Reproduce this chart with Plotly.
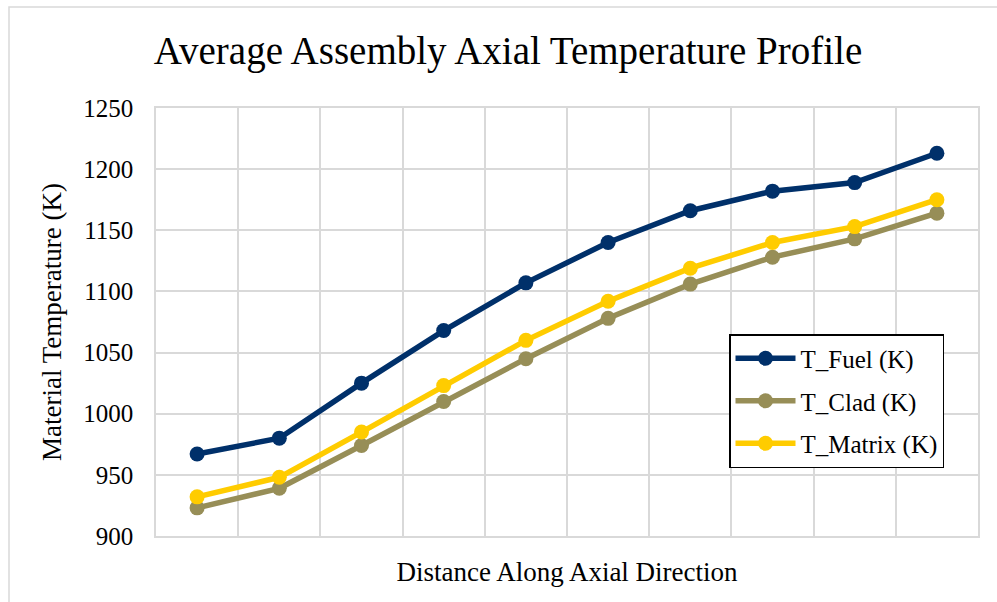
import plotly.graph_objects as go

segments = [1, 2, 3, 4, 5, 6, 7, 8, 9, 10]
t_fuel = [967, 980, 1025, 1068, 1107, 1140, 1166, 1182, 1189, 1213]
t_clad = [923, 939, 974, 1010, 1045, 1078, 1106, 1128, 1143, 1164]
t_matrix = [932, 948, 985, 1023, 1060, 1092, 1119, 1140, 1153, 1175]
series_names = ["T_Fuel (K)", "T_Clad (K)", "T_Matrix (K)"]
series_colors = ["#00306A", "#978E57", "#FFCC00"]

FONT = "Liberation Serif, Times New Roman, serif"

fig = go.Figure()
for i, (name, vals, col) in enumerate(zip(series_names, [t_fuel, t_clad, t_matrix], series_colors)):
    fig.add_trace(go.Scatter(
        x=segments, y=vals, name=name, mode="lines+markers",
        legendgroup="g%d" % i,
        line=dict(color=col, width=5.5),
        marker=dict(color=col, size=15),
    ))

W, H = 997, 602
L, R, T, B = 156, 978, 108, 536
pw, ph = R - L, B - T

fig.update_layout(
    width=W, height=H,
    margin=dict(l=L, r=W - R, t=T, b=H - B, pad=0),
    paper_bgcolor="white", plot_bgcolor="white",
    font=dict(family=FONT, color="#000000", size=25),
    title=dict(text="Average Assembly Axial Temperature Profile",
               font=dict(family=FONT, size=39, color="#000000"),
               x=508 / W, xanchor="center", y=1 - 50 / H, yanchor="middle"),
    xaxis=dict(range=[0.5, 10.5], tick0=0.5, dtick=1, showticklabels=False,
               showgrid=True, gridcolor="#D9D9D9", gridwidth=1.5,
               zeroline=False, showline=True, linecolor="#D9D9D9", linewidth=1.5, mirror=True,
               title=dict(text="Distance Along Axial Direction",
                          font=dict(family=FONT, size=27), standoff=25)),
    yaxis=dict(range=[900, 1250], dtick=50, tick0=900,
               showgrid=True, gridcolor="#D9D9D9", gridwidth=1.5,
               zeroline=False, showline=True, linecolor="#D9D9D9", linewidth=1.5, mirror=True,
               ticks="", ticklabelstandoff=16,
               tickfont=dict(family=FONT, size=25),
               title=dict(text="Material Temperature (K)",
                          font=dict(family=FONT, size=27), standoff=14)),
    legend=dict(x=(729 - L) / pw, y=(B - 334) / ph, xanchor="left", yanchor="top",
                bordercolor="#000000", borderwidth=1.5, bgcolor="white",
                font=dict(family=FONT, size=25), itemwidth=60,
                traceorder="grouped", tracegroupgap=7),
    showlegend=True,
)

# outer chart border (light gray), extends beyond the visible area on right/bottom
fig.add_shape(type="rect", xref="paper", yref="paper",
              x0=(9 - L) / pw, x1=(W + 20 - L) / pw,
              y0=(B - (H + 20)) / ph, y1=(B - 7) / ph,
              line=dict(color="#D9D9D9", width=1.5), fillcolor="rgba(0,0,0,0)", layer="below")

fig.write_html("out.html")
